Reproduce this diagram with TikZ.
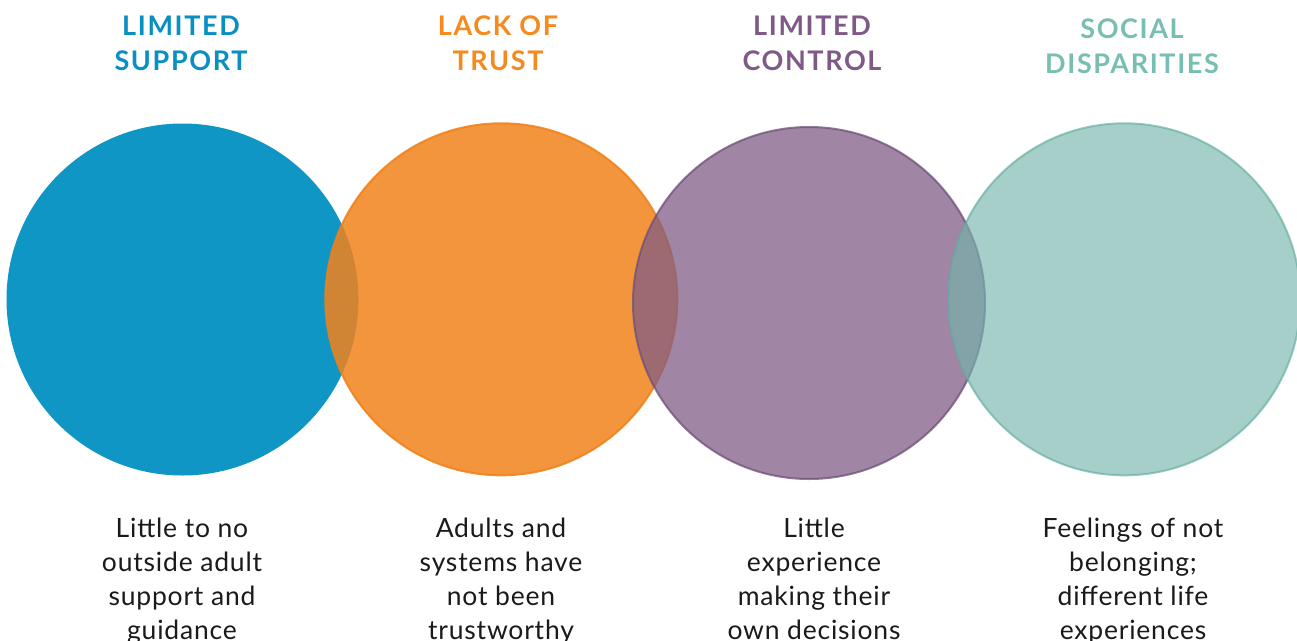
\documentclass[tikz,border=0pt]{standalone}
\usepackage{fontspec}
\setmainfont[LetterSpace=3]{Lato}
\newfontfamily\headfont[LetterSpace=6]{Lato Bold}
\definecolor{cblue}{HTML}{1096C4}
\definecolor{corange}{HTML}{F2831C}
\definecolor{corangeline}{HTML}{F08018}
\definecolor{cpurple}{HTML}{7F5B85}
\definecolor{cpurpleline}{HTML}{6E4F78}
\definecolor{cteal}{HTML}{74B4AC}
\definecolor{ctealline}{HTML}{5FAE9E}
\definecolor{hblue}{HTML}{0A8FC2}
\definecolor{horange}{HTML}{F58A1F}
\definecolor{hpurple}{HTML}{7F5A87}
\definecolor{hteal}{HTML}{78BFB2}
\definecolor{body}{HTML}{1A1A1A}
\begin{document}
\begin{tikzpicture}[x=1pt,y=-1pt,
  disc/.style={circle, inner sep=0pt, minimum size=352pt},
  heading/.style={anchor=north, inner sep=0pt, align=center,
    font=\headfont\fontsize{27}{35}\selectfont},
  caption/.style={anchor=north, inner sep=0pt, align=center, text=body,
    font=\fontsize{26.5}{34}\selectfont}]
\useasboundingbox (0,0) rectangle (1297,640);
\fill[white] (0,0) rectangle (1297,640);

% overlapping circles, each one laid over the previous
\node[disc, fill=cblue] (c1) at (182.5,299.5) {};
\node[disc, fill=corange, draw=corangeline, line width=2pt, opacity=0.85] (c2) at (501.3,299.3) {};
\node[disc, fill=cpurple, draw=cpurpleline, line width=2pt, opacity=0.74] (c3) at (809,303) {};
\node[disc, fill=cteal, draw=ctealline, line width=2pt, opacity=0.64] (c4) at (1124.4,299.3) {};

% titles
\node[heading, text=hblue] (h1) at (181,16) {LIMITED\\SUPPORT};
\node[heading, text=horange] (h2) at (498,16) {LACK OF\\TRUST};
\node[heading, text=hpurple] (h3) at (812,16) {LIMITED\\CONTROL};
\node[heading, text=hteal] (h4) at (1132,19) {SOCIAL\\DISPARITIES};

% descriptions
\node[caption] (t1) at (182,518) {Little to no\\outside adult\\support and\\guidance};
\node[caption] (t2) at (501,518) {Adults and\\systems have\\not been\\trustworthy};
\node[caption] (t3) at (814,518) {Little\\experience\\making their\\own decisions};
\node[caption] (t4) at (1133,518) {Feelings of not\\belonging;\\different life\\experiences};
\end{tikzpicture}
\end{document}
